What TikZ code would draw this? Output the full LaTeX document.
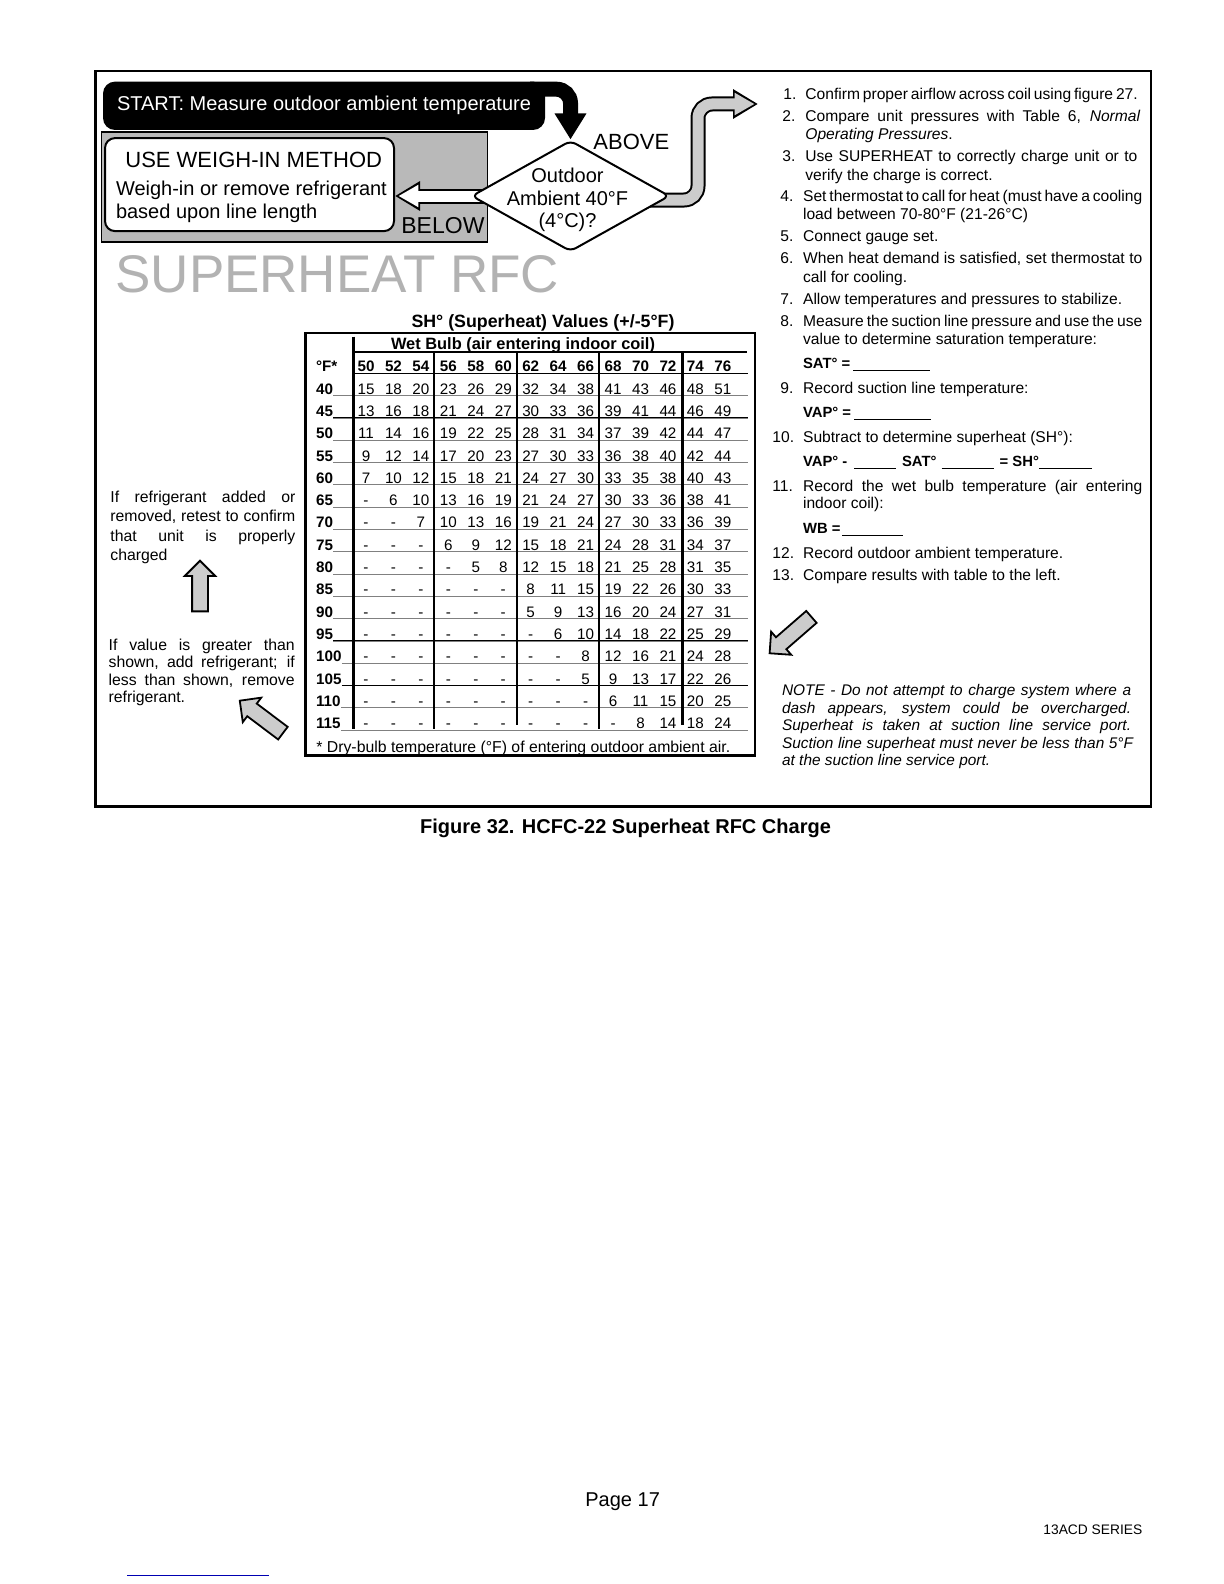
\documentclass[tikz,border=0pt]{standalone}
\usepackage{fontspec}
\setmainfont{Liberation Sans}
\usetikzlibrary{shapes.geometric,shapes.arrows,arrows.meta,backgrounds}

\newcommand{\fitline}[2]{\makebox[#1pt][s]{#2}}

\tikzset{
  plain/.style={inner sep=0pt,anchor=base west,align=left},
  steptext/.style={plain,font=\fontsize{7.8}{9.1}\selectfont},
  bluetext/.style={plain,font=\bfseries\fontsize{7.4}{9}\selectfont},
  notetext/.style={plain,font=\itshape\fontsize{7.7}{8.75}\selectfont},
  sidetext/.style={plain,font=\fontsize{7.9}{9}\selectfont},
  bigtext/.style={plain,font=\fontsize{10}{12}\selectfont},
  cell/.style={inner sep=0pt,anchor=base,font=\fontsize{7.6}{9}\selectfont},
  headcell/.style={inner sep=0pt,anchor=base,font=\bfseries\fontsize{7.6}{9}\selectfont},
  rowlabel/.style={plain,font=\bfseries\fontsize{7.6}{9}\selectfont},
  flowblack/.style={line width=7.5pt,rounded corners=7pt,-{Triangle[length=13pt,width=15pt]}},
  flowouter/.style={line width=7.5pt,rounded corners=7pt,-{Triangle[length=12.5pt,width=14pt]}},
  flowinner/.style={line width=5.5pt,rounded corners=7pt,shorten >=1.7pt,-{Triangle[length=10pt,width=10.5pt]}},
  grayarrow/.style={shape=single arrow,draw=black,line width=0.9pt,fill=gray!40,inner sep=3.5pt,
    single arrow head extend=3.7pt,single arrow head indent=0pt,minimum width=14.5pt},
  decision/.style={shape=diamond,draw=black,line width=1pt,fill=white,rounded corners=3pt,
    minimum width=99pt,minimum height=55.5pt,inner sep=0pt,aspect=1.78},
}

\begin{document}
\begin{tikzpicture}[x=0.5pt,y=-0.5pt]
\useasboundingbox (0,0) rectangle (1224,1584);

\draw[line width=1.25pt] (95.7,71) rectangle (1151,806.5);

\node[decision] (ambient) at (570.5,196) {};
\coordinate (startout) at (530,89.2);
\coordinate (ambientout) at (650,200);
\coordinate (aboveout) at (698,200);
\coordinate (aboveup) at (698,104);
\coordinate (coolout) at (758,104);

\begin{pgfonlayer}{background}
\node[draw=black,line width=0.8pt,fill=gray!55,minimum width=193pt,minimum height=54.7pt,inner sep=0pt] (grayback) at (294.3,187) {};
\node[draw=black,line width=1pt,fill=white,rounded corners=5pt,minimum width=144.5pt,minimum height=46.5pt,inner sep=0pt] (weighbox) at (249.5,184.6) {};
\node[fill=black,rounded corners=6pt,minimum width=221pt,minimum height=24.2pt,inner sep=0pt,text=white,font=\fontsize{10}{12}\selectfont] (startbox) at (324,105.8) {\raisebox{-1pt}{START: Measure outdoor ambient temperature}};
\draw[flowblack] (startout) -| (ambient.north);
\draw[flowouter] (ambientout) -- (aboveout) -- (aboveup) -- (coolout);
\draw[flowinner,gray!40] (ambientout) -- (aboveout) -- (aboveup) -- (coolout);
\draw[flowouter] (ambient.center) -- (ambient.center -| weighbox.east);
\draw[flowinner,white] (ambient.center) -- (ambient.center -| weighbox.east);
\end{pgfonlayer}

\node[align=center,inner sep=0pt,font=\fontsize{10}{11.3}\selectfont] (ambienttext) at (567.5,200) {Outdoor\\Ambient 40°F\\(4°C)?};
\node[plain,font=\fontsize{11}{13}\selectfont] (above) at (593,149.3) {ABOVE};
\node[plain,font=\fontsize{11.5}{13}\selectfont] (below) at (401,233.3) {BELOW};
\node[plain,font=\fontsize{11}{12}\selectfont] (usehead) at (125,167.5) {USE WEIGH-IN METHOD};
\node[bigtext] (weigh1) at (115.6,195) {Weigh-in or remove refrigerant};
\node[bigtext] (weigh2) at (115.6,218) {based upon line length};
\node[plain,text=gray!60,font=\fontsize{26.5}{28}\selectfont] (title) at (115,292) {SUPERHEAT RFC};

\node[sidetext] (side1a) at (110,502.3) {\fitline{92.5}{If refrigerant added or}};
\node[sidetext] (side1b) at (110,521.7) {\fitline{92.5}{removed, retest to confirm}};
\node[sidetext] (side1c) at (110,541) {\fitline{92.5}{that unit is properly}};
\node[sidetext] (side1d) at (110,560) {charged};
\node[sidetext] (side2a) at (108.3,650.7) {\fitline{93}{If value is greater than}};
\node[sidetext] (side2b) at (108.3,667.7) {\fitline{93}{shown, add refrigerant; if}};
\node[sidetext] (side2c) at (108.3,685) {\fitline{93}{less than shown, remove}};
\node[sidetext] (side2d) at (108.3,702.7) {refrigerant.};
\node[grayarrow,rotate=90,minimum height=25.3pt] (uparrow) at (200,590) {};
\node[grayarrow,rotate=143,minimum height=27pt] (valuearrow) at (264.5,719.3) {};
\node[grayarrow,rotate=221,minimum height=27.7pt] (notearrow) at (793.5,632.5) {};

\node[inner sep=0pt,anchor=base,font=\bfseries\fontsize{8.9}{11}\selectfont] (shhead) at (543,327) {SH° (Superheat) Values (+/-5°F)};
\draw[line width=1.25pt] (305.7,333) rectangle (755,755.7);
\node[inner sep=0pt,anchor=base,font=\bfseries\fontsize{8.2}{10}\selectfont] (wethead) at (523,349) {Wet Bulb (air entering indoor coil)};
\draw[line width=0.8pt] (353,352) -- (747,352);
\node[rowlabel] (degf) at (315.7,371.7) {°F*};
\draw[line width=0.6pt] (352,373.3) -- (748,373.3);

\foreach \v [count=\c from 0] in {50,52,54,56,58,60,62,64,66,68,70,72,74,76}
  \node[headcell] (head\v) at ({366+27.45*\c},371.7) {\v};

\foreach \t/\vals [count=\r from 1] in {
  40/{15,18,20,23,26,29,32,34,38,41,43,46,48,51},
  45/{13,16,18,21,24,27,30,33,36,39,41,44,46,49},
  50/{11,14,16,19,22,25,28,31,34,37,39,42,44,47},
  55/{9,12,14,17,20,23,27,30,33,36,38,40,42,44},
  60/{7,10,12,15,18,21,24,27,30,33,35,38,40,43},
  65/{-,6,10,13,16,19,21,24,27,30,33,36,38,41},
  70/{-,-,7,10,13,16,19,21,24,27,30,33,36,39},
  75/{-,-,-,6,9,12,15,18,21,24,28,31,34,37},
  80/{-,-,-,-,5,8,12,15,18,21,25,28,31,35},
  85/{-,-,-,-,-,-,8,11,15,19,22,26,30,33},
  90/{-,-,-,-,-,-,5,9,13,16,20,24,27,31},
  95/{-,-,-,-,-,-,-,6,10,14,18,22,25,29},
  100/{-,-,-,-,-,-,-,-,8,12,16,21,24,28},
  105/{-,-,-,-,-,-,-,-,5,9,13,17,22,26},
  110/{-,-,-,-,-,-,-,-,-,6,11,15,20,25},
  115/{-,-,-,-,-,-,-,-,-,-,8,14,18,24}} {
  \node[rowlabel] (row\t) at (315.7,{373.3+22.3*\r-1.5}) {\t};
  \draw[line width=0.4pt,gray] (row\t.base east) ++(0,1.5) -- (748,{373.3+22.3*\r});
  \foreach \v [count=\c from 0] in \vals
    \node[cell] (cell\t-\c) at ({366+27.45*\c},{373.3+22.3*\r-1.5}) {\v};
}
\foreach \t/\r in {45/2,95/12,105/14}
  \draw[line width=0.5pt] (row\t.base east) ++(0,1.5) -- (748,{373.3+22.3*\r});

\foreach \x/\ya/\yb in {353.3/336.7/729,434/353/729,516.7/353/725,599/353/729,682.3/353/725}
  \draw[line width=1.2pt] (\x,\ya) -- (\x,\yb);

\node[inner sep=0pt,anchor=base west,font=\fontsize{7.9}{9}\selectfont] (dryfoot) at (316,752) {* Dry-bulb temperature (°F) of entering outdoor ambient air.};

\node[steptext] (num1) at (783,99) {1.};
\node[steptext] (item1) at (805,99) {\fitline{165.8}{Confirm proper airflow across coil using figure 27.}};
\node[steptext] (num2) at (782,121.7) {2.};
\node[steptext] (item2a) at (805,121.7) {\fitline{167.5}{Compare unit pressures with Table 6, \textit{Normal}}};
\node[steptext] (item2b) at (805,140) {\textit{Operating Pressures}.};
\node[steptext] (num3) at (782,161.7) {3.};
\node[steptext] (item3a) at (805,161.7) {\fitline{166}{Use SUPERHEAT to correctly charge unit or to}};
\node[steptext] (item3b) at (805,180) {verify the charge is correct.};
\node[steptext] (num4) at (780,201.7) {4.};
\node[steptext] (item4a) at (802.7,201.7) {\fitline{169.6}{Set thermostat to call for heat (must have a cooling}};
\node[steptext] (item4b) at (802.7,219) {load between 70-80°F (21-26°C)};
\node[steptext] (num5) at (780,241.7) {5.};
\node[steptext] (item5) at (802.7,241.7) {Connect gauge set.};
\node[steptext] (num6) at (780,263.3) {6.};
\node[steptext] (item6a) at (802.7,263.3) {\fitline{169.6}{When heat demand is satisfied, set thermostat to}};
\node[steptext] (item6b) at (802.7,282.3) {call for cooling.};
\node[steptext] (num7) at (780,304.3) {7.};
\node[steptext] (item7) at (802.7,304.3) {Allow temperatures and pressures to stabilize.};
\node[steptext] (num8) at (780,326.7) {8.};
\node[steptext] (item8a) at (802.7,326.7) {\fitline{169.6}{Measure the suction line pressure and use the use}};
\node[steptext] (item8b) at (802.7,344.3) {value to determine saturation temperature:};
\node[bluetext] (satval) at (802.7,368.3) {SAT° =};
\draw[line width=0.5pt] (853,370) -- (930,370);
\node[steptext] (num9) at (780,393.3) {9.};
\node[steptext] (item9) at (802.7,393.3) {Record suction line temperature:};
\node[bluetext] (vapval) at (802.7,417.3) {VAP° =};
\draw[line width=0.5pt] (854,419) -- (931,419);
\node[steptext] (num10) at (772,442.7) {10.};
\node[steptext] (item10) at (802.7,442.7) {Subtract to determine superheat (SH°):};
\node[bluetext] (vapdiff) at (802.7,466) {VAP° -};
\draw[line width=0.5pt] (854,468) -- (896,468);
\node[bluetext] (satdiff) at (901.7,466) {SAT°};
\draw[line width=0.5pt] (941.7,468) -- (994,468);
\node[bluetext] (shdiff) at (999.3,466) {= SH°};
\draw[line width=0.5pt] (1039,468) -- (1091.7,468);
\node[steptext] (num11) at (772,491.7) {11.};
\node[steptext] (item11a) at (802.7,491.7) {\fitline{169.6}{Record the wet bulb temperature (air entering}};
\node[steptext] (item11b) at (802.7,508.3) {indoor coil):};
\node[bluetext] (wbval) at (802.7,533.3) {WB =};
\draw[line width=0.5pt] (842,535) -- (903,535);
\node[steptext] (num12) at (772,558.3) {12.};
\node[steptext] (item12) at (802.7,558.3) {Record outdoor ambient temperature.};
\node[steptext] (num13) at (772,580) {13.};
\node[steptext] (item13) at (802.7,580) {Compare results with table to the left.};

\node[notetext] (note1) at (781.7,695) {\fitline{174.5}{NOTE - Do not attempt to charge system where a}};
\node[notetext] (note2) at (781.7,713.3) {\fitline{174.5}{dash appears, system could be overcharged.}};
\node[notetext] (note3) at (781.7,730.7) {\fitline{174.5}{Superheat is taken at suction line service port.}};
\node[notetext] (note4) at (781.7,748.3) {\fitline{175.5}{Suction line superheat must never be less than 5°F}};
\node[notetext] (note5) at (781.7,765.7) {at the suction line service port.};

\node[inner sep=0pt,anchor=base,font=\bfseries\fontsize{10}{12}\selectfont] (caption) at (625.5,833) {Figure 32. HCFC-22 Superheat RFC Charge};
\node[plain,font=\fontsize{10}{12}\selectfont] (pagenum) at (585,1506.7) {Page 17};
\node[plain,font=\fontsize{6.9}{8}\selectfont] (series) at (1043,1534) {13ACD SERIES};
\draw[line width=0.5pt,blue!70!black] (127,1575) -- (269,1575);
\end{tikzpicture}
\end{document}
